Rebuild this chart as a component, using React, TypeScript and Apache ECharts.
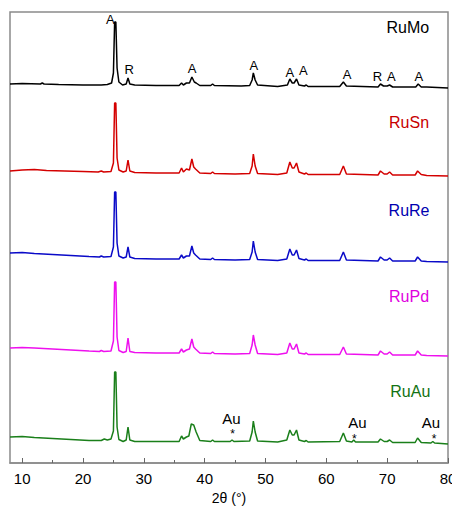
import React, { useEffect, useRef } from "react";
import * as echarts from "echarts";

// x: 2θ (°), y: stacked intensity (plot units, offset traces)
const ruMo: number[][] = [
  [8, 379], [10, 379.5], [13, 379], [13.3, 380], [13.6, 379], [16, 378.5], [20, 378], [23, 378], [24, 378.5],
  [24.7, 380], [25.0, 390], [25.2, 441], [25.4, 441], [25.6, 395], [25.9, 381], [26.5, 378], [27.1, 379],
  [27.4, 385], [27.7, 379], [28.5, 378], [32, 377.5], [35.8, 377.5], [36.2, 380], [36.5, 378], [37.0, 380],
  [37.5, 380], [37.9, 386], [38.3, 381], [38.6, 380], [39.2, 377.5], [41.0, 377.5], [41.3, 379], [41.6, 377.5],
  [46, 377], [47.4, 377.5], [47.8, 383], [48.0, 390], [48.3, 383], [48.7, 378], [52, 376.5], [53.6, 378],
  [54.0, 384], [54.4, 380], [54.7, 380], [55.1, 384], [55.5, 378], [56.4, 377], [56.7, 378], [57.0, 376.5],
  [62.2, 376.5], [62.8, 381], [63.3, 377], [68.5, 376], [68.9, 379], [69.4, 377], [70.0, 377], [70.4, 378],
  [70.9, 376], [74.7, 376], [75.1, 379], [75.6, 376], [76.5, 376], [80, 375],
];
const ruSn: number[][] = [
  [8, 292], [10, 293], [12, 293.5], [14, 292.5], [17, 292], [20, 291.5], [22.5, 291], [23, 292], [23.4, 291],
  [24.6, 291.5], [25.0, 300], [25.2, 360], [25.4, 360], [25.6, 305], [25.9, 293], [26.6, 291], [27.1, 292],
  [27.4, 303], [27.7, 292], [28.5, 290.5], [32, 290], [35.8, 290], [36.2, 295], [36.5, 291], [37.0, 294],
  [37.5, 293], [37.9, 304], [38.2, 296], [38.5, 294], [39.2, 290], [41.0, 289.5], [41.3, 291], [41.6, 289.5],
  [45, 289], [47.4, 289.5], [47.8, 297], [48.0, 309], [48.3, 297], [48.7, 289.5], [52, 288.5], [53.5, 290],
  [54.0, 301], [54.4, 295], [54.7, 295], [55.1, 300], [55.5, 291], [56.4, 289], [56.7, 290], [57.0, 288.5],
  [62.2, 288.5], [62.8, 297], [63.3, 289], [68.5, 288], [68.9, 292], [69.5, 289], [70.0, 289], [70.4, 291],
  [70.9, 288], [74.6, 288], [75.0, 292], [75.6, 288.5], [76.5, 287.5], [80, 287],
];
const ruRe: number[][] = [
  [8, 210], [10, 210.5], [12, 209.5], [15, 208.5], [18, 207.5], [21, 206.5], [22.7, 206], [23, 207], [23.4, 206],
  [24.6, 206.5], [25.0, 216], [25.2, 271], [25.4, 271], [25.6, 220], [25.9, 207], [26.6, 205], [27.1, 206],
  [27.4, 216], [27.7, 206], [28.5, 204.5], [32, 204], [35.8, 204], [36.2, 208], [36.5, 205], [37.0, 207],
  [37.5, 207], [37.9, 217], [38.2, 210], [38.5, 208], [39.2, 204], [41.0, 203.5], [41.3, 205], [41.6, 203.5],
  [45, 203], [47.4, 203.5], [47.8, 211], [48.0, 222], [48.3, 211], [48.7, 203.5], [52, 202.5], [53.5, 204],
  [54.0, 214], [54.4, 208], [54.7, 208], [55.1, 213], [55.5, 204.5], [56.4, 203], [56.7, 204], [57.0, 202.5],
  [62.2, 202.5], [62.8, 211], [63.3, 203], [68.5, 202], [68.9, 206], [69.5, 203], [70.0, 203], [70.4, 205],
  [70.9, 202], [74.6, 202], [75.0, 206], [75.6, 202], [76.5, 201.5], [80, 201],
];
const ruPd: number[][] = [
  [8, 115], [10, 115.5], [12, 115], [15, 114], [18, 113], [21, 112], [22.7, 111.5], [23, 112.5], [23.4, 111.5],
  [24.6, 112], [25.0, 122], [25.2, 181], [25.4, 181], [25.6, 126], [25.9, 112.5], [26.6, 110.5], [27.1, 111.5],
  [27.4, 125], [27.7, 111.5], [28.5, 110.5], [32, 110], [35.8, 110], [36.2, 114], [36.5, 111], [37.0, 113],
  [37.5, 114], [37.9, 124], [38.2, 116], [38.5, 114], [39.2, 110], [41.0, 109.5], [41.3, 111], [41.6, 109.5],
  [45, 109], [47.4, 109.5], [47.8, 118], [48.0, 128], [48.3, 118], [48.7, 109.5], [52, 108.5], [53.5, 110],
  [54.0, 120], [54.4, 114], [54.7, 114], [55.1, 119], [55.5, 110], [56.4, 109], [56.7, 110], [57.0, 108.5],
  [62.2, 108.5], [62.8, 116], [63.3, 109], [68.5, 108], [68.9, 112], [69.5, 109], [70.0, 109], [70.4, 111],
  [70.9, 108], [74.6, 108], [75.0, 112], [75.6, 108], [76.5, 107.5], [80, 107],
];
const ruAu: number[][] = [
  [8, 26], [10, 26.5], [12, 25.5], [15, 24.5], [18, 23.5], [21, 22.5], [23, 22.5], [23.5, 24], [24, 23],
  [24.6, 24], [25.0, 32], [25.2, 91], [25.4, 91], [25.6, 36], [25.9, 23.5], [26.6, 21.5], [27.1, 23],
  [27.4, 36], [27.7, 23], [28.5, 21.5], [32, 21.5], [35.8, 21.5], [36.2, 27], [36.5, 24], [37.0, 26],
  [37.4, 27], [37.8, 39], [38.2, 38], [38.6, 31], [39.2, 22.5], [41.0, 21.5], [41.3, 23], [41.6, 21.5],
  [44.2, 21.5], [44.5, 23], [44.8, 21.5], [47.4, 22], [47.8, 31], [48.0, 42], [48.3, 31], [48.7, 22],
  [52, 21], [53.5, 23], [54.0, 33], [54.4, 28], [54.7, 28], [55.1, 33], [55.5, 23], [56.4, 21.5], [56.7, 22.5],
  [57.0, 21], [62.2, 21.5], [62.8, 30], [63.3, 22], [64.2, 21], [64.5, 23], [64.8, 21], [68.5, 21], [68.9, 24],
  [69.5, 21.5], [70.0, 21.5], [70.4, 23], [70.9, 20.5], [74.6, 20.5], [75.0, 25], [75.6, 20.5], [77.2, 20],
  [77.5, 21.5], [77.8, 20], [80, 19],
];

const seriesNames = ["RuMo", "RuSn", "RuRe", "RuPd", "RuAu"];
const seriesColors = ["#000000", "#d40000", "#0a0ac8", "#ee10ee", "#1a7f1a"];
const nameColors = ["#000000", "#c80000", "#0000b0", "#e000e0", "#137313"];
const seriesData = [ruMo, ruSn, ruRe, ruPd, ruAu];
// sample-name label anchors [2θ, y]
const nameAnchors: number[][] = [[73.4, 436], [73.6, 341], [73.6, 253], [73.6, 167], [73.8, 72]];

// phase labels on the RuMo pattern: [2θ, y, text]
const phaseLabels: (number | string)[][] = [
  [24.5, 444, "A"], [27.6, 393.5, "R"], [37.95, 395, "A"], [48.1, 397.5, "A"], [54.0, 391, "A"],
  [56.2, 392.5, "A"], [63.4, 388.5, "A"], [68.4, 386.5, "R"], [70.7, 386.5, "A"], [75.2, 386.5, "A"],
];
// gold reflections on the RuAu pattern
const auLabels: (number | string)[][] = [[44.4, 45, "Au"], [65.1, 41, "Au"], [77.2, 41, "Au"]];
const auStars: (number | string)[][] = [[44.6, 29, "*"], [64.6, 24.5, "*"], [77.7, 24.5, "*"]];

const majorTicks = [10, 20, 30, 40, 50, 60, 70, 80];
const minorTicks = [15, 25, 35, 45, 55, 65, 75];

const FONT = "Liberation Sans, Arial, sans-serif";

function labelSeries(data: any[], size: number, lineHeight: number) {
  return {
    type: "scatter",
    data,
    symbolSize: 0,
    silent: true,
    z: 10,
    itemStyle: { color: "#000", opacity: 1 },
    label: {
      show: true,
      position: "inside",
      formatter: (p: any) => (Array.isArray(p.data) ? p.data[2] : p.data.value[2]),
      fontFamily: FONT,
      fontSize: size,
      lineHeight,
      color: "#000",
      opacity: 1,
      textBorderWidth: 0,
      textBorderColor: "transparent",
    },
  };
}

export default function App() {
  const ref = useRef<HTMLDivElement>(null);
  useEffect(() => {
    if (!ref.current) return;
    const chart = echarts.init(ref.current, undefined, { renderer: "svg" });
    const lines = seriesData.map((d, i) => ({
      type: "line",
      name: seriesNames[i],
      data: d,
      showSymbol: false,
      symbol: "none",
      lineStyle: { color: seriesColors[i], width: 1.5 },
      z: 3,
    }));
    const nameData = nameAnchors.map((a, i) => ({
      value: [a[0], a[1], seriesNames[i]],
      label: { color: nameColors[i] },
    }));
    chart.setOption({
      animation: false,
      grid: { left: 2, right: 12, top: 4, bottom: 47, show: true, borderColor: "#8a8a8a", borderWidth: 1.5 },
      xAxis: [
        {
          type: "value",
          min: 8,
          max: 80,
          splitNumber: 7,
          name: "2θ (°)",
          nameLocation: "middle",
          nameGap: 27,
          nameTextStyle: { fontFamily: FONT, fontSize: 14, color: "#000" },
          axisLine: { show: true, lineStyle: { color: "#8a8a8a", width: 1.5 } },
          axisTick: { show: true, inside: true, length: 5, customValues: majorTicks, lineStyle: { color: "#666" } },
          axisLabel: { customValues: majorTicks, fontFamily: FONT, fontSize: 15, color: "#000", margin: 8 },
          splitLine: { show: false },
        },
        {
          type: "value",
          min: 8,
          max: 80,
          position: "bottom",
          axisLine: { show: false },
          axisTick: { show: true, inside: true, length: 3, customValues: minorTicks, lineStyle: { color: "#666" } },
          axisLabel: { show: false },
          splitLine: { show: false },
        },
      ],
      yAxis: { type: "value", min: 0, max: 451, show: false, splitLine: { show: false } },
      series: [
        ...lines,
        labelSeries(phaseLabels, 13, 13),
        labelSeries(auLabels, 15, 15),
        labelSeries(auStars, 12, 10),
        labelSeries(nameData, 16, 18),
      ],
    });
    return () => chart.dispose();
  }, []);
  return <div ref={ref} style={{ width: 452, height: 502 }} />;
}
